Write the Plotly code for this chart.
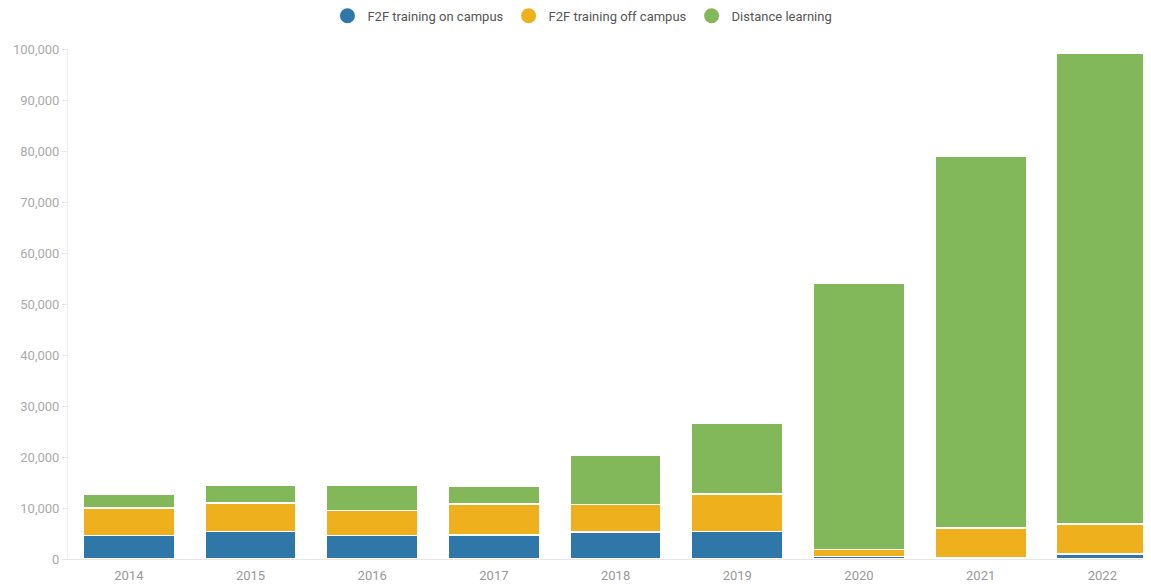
import plotly.graph_objects as go

# Training participants by year and format
years = ["2014", "2015", "2016", "2017", "2018", "2019", "2020", "2021", "2022"]
on_campus = [4600, 5400, 4600, 4700, 5300, 5400, 500, 150, 1000]
off_campus = [5400, 5600, 4900, 6100, 5400, 7300, 1400, 5900, 5900]
distance = [2700, 3450, 5000, 3450, 9700, 13900, 52100, 72900, 92200]

series_names = ["F2F training on campus", "F2F training off campus", "Distance learning"]
colors = ["#2f77a8", "#efb01e", "#82b75a"]

fig = go.Figure()

for name, vals, col in zip(series_names, [on_campus, off_campus, distance], colors):
    fig.add_trace(go.Bar(
        x=years, y=vals, name=name,
        marker=dict(color=col, line=dict(color="white", width=1.5)),
        showlegend=False,
    ))

# Legend entries with round markers
for name, col in zip(series_names, colors):
    fig.add_trace(go.Scatter(
        x=[None], y=[None], mode="markers", name=name,
        marker=dict(color=col, size=15, symbol="circle"),
    ))

# page body has an 8px margin, so the figure is sized/offset to compensate
fig.update_layout(
    width=1143, height=577,
    barmode="stack",
    bargap=0.25,
    plot_bgcolor="white",
    paper_bgcolor="white",
    font=dict(family="Roboto", size=13, color="#999999"),
    margin=dict(l=60, r=0, t=41, b=26, autoexpand=False),
    legend=dict(
        orientation="h", x=0.475, xanchor="center", y=1.065, yanchor="middle",
        traceorder="normal",
        font=dict(size=13, color="#555555"), itemwidth=30,
    ),
    xaxis=dict(
        range=[-0.5, 8.4], showgrid=False, showline=True,
        linecolor="#e6e6e6", linewidth=1, ticks="",
        ticklabelstandoff=4,
        tickfont=dict(size=13, color="#999999"),
    ),
    yaxis=dict(
        range=[0, 100000], dtick=10000, tickformat=",d",
        showgrid=False, showline=True, linecolor="#eeeeee", linewidth=1,
        ticks="outside", ticklen=5, tickcolor="#e6e6e6",
        tickfont=dict(size=13, color="#aaaaaa"), zeroline=False,
    ),
)

fig.write_html("out.html")
